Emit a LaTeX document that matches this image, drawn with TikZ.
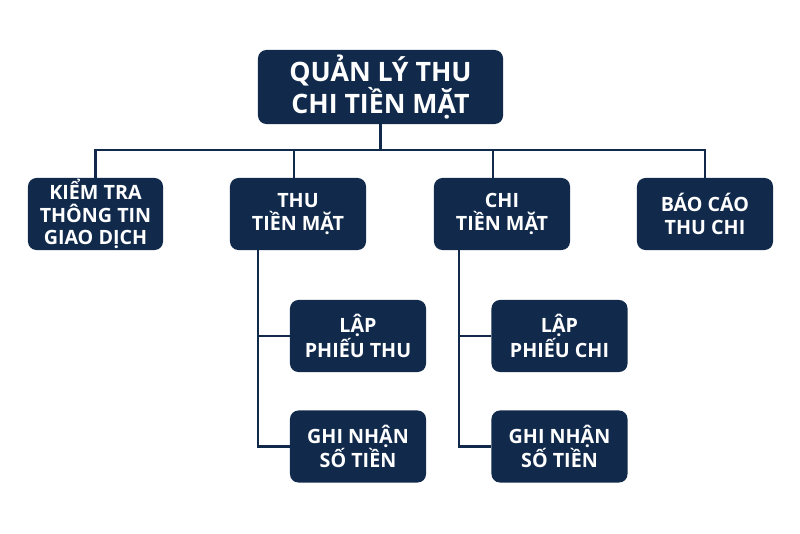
\documentclass[tikz,border=0pt]{standalone}
\usepackage{fontspec}
\setmainfont{Open Sans}
\usetikzlibrary{positioning}
\definecolor{navy}{HTML}{112A4C}

\begin{document}
\begin{tikzpicture}[x=0.025cm, y=-0.025cm,
    box/.style={rectangle, rounded corners=6pt, fill=navy, text=white, align=center,
      minimum width=3.4cm, minimum height=1.8cm, inner sep=0pt,
      font=\bfseries\fontsize{14}{15.8}\selectfont},
    link/.style={draw=navy, line width=1.7pt}]
  \useasboundingbox (0,0) rectangle (800,533);
  \node[box, minimum width=6.125cm, minimum height=1.85cm,
    font=\bfseries\fontsize{19}{22.5}\selectfont] (root) at (380.5,87) {QUẢN LÝ THU\\CHI TIỀN MẶT};
  \node[box, minimum width=3.375cm] (kiemtra) at (95.5,214) {KIỂM TRA\\THÔNG TIN\\GIAO DỊCH};
  \node[box] (thu) at (298,214) {THU\\TIỀN MẶT};
  \node[box] (chi) at (502,214) {CHI\\TIỀN MẶT};
  \node[box] (baocao) at (705,214) {BÁO CÁO\\THU CHI};
  \node[box] (lapthu) at (358,336) {LẬP\\PHIẾU THU};
  \node[box] (ghithu) at (358,446.5) {GHI NHẬN\\SỐ TIỀN};
  \node[box] (lapchi) at (559.5,336) {LẬP\\PHIẾU CHI};
  \node[box] (ghichi) at (559.5,446.5) {GHI NHẬN\\SỐ TIỀN};
  % bus
  \coordinate (bus) at (380.5,150);
  \draw[link] (root.south) -- (bus);
  \draw[link] (kiemtra.north) |- (bus) -| (baocao.north);
  \draw[link] ([xshift=-0.1cm]thu.north) -- ([xshift=-0.1cm]thu.north |- bus);
  \draw[link] ([xshift=-0.225cm]chi.north) -- ([xshift=-0.225cm]chi.north |- bus);
  % sub-tasks
  \coordinate (thutrunk) at (258,250);
  \coordinate (chitrunk) at (459,250);
  \draw[link] (thutrunk) |- (lapthu.west);
  \draw[link] (thutrunk) |- (ghithu.west);
  \draw[link] (chitrunk) |- (lapchi.west);
  \draw[link] (chitrunk) |- (ghichi.west);
\end{tikzpicture}
\end{document}
